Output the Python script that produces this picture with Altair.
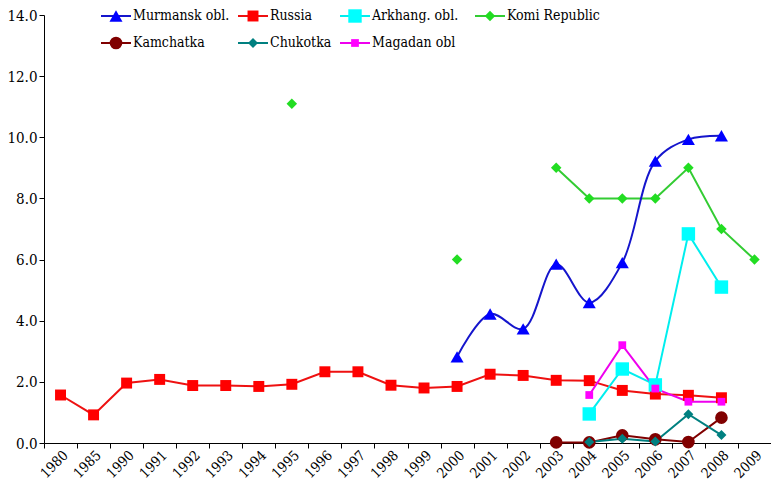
import altair as alt
import pandas as pd
import numpy as np

years = ["1980", "1985", "1990", "1991", "1992", "1993", "1994", "1995", "1996", "1997",
         "1998", "1999", "2000", "2001", "2002", "2003", "2004", "2005", "2006", "2007",
         "2008", "2009"]

N = None
murmansk = [N, N, N, N, N, N, N, N, N, N, N, N, 2.82, 4.22, 3.73, 5.85, 4.59, 5.9, 9.22, 9.93, 10.05, N]
russia = [1.57, 0.92, 1.96, 2.08, 1.88, 1.88, 1.85, 1.92, 2.33, 2.33, 1.89, 1.80, 1.85, 2.25, 2.21, 2.05, 2.04, 1.72, 1.60, 1.56, 1.48, N]
arkhang = [N, N, N, N, N, N, N, N, N, N, N, N, N, N, N, N, 0.95, 2.42, 1.90, 6.84, 5.10, N]
komi = [N, N, N, N, N, N, N, 11.1, N, N, N, N, 6.0, N, N, 9.0, 8.0, 8.0, 8.0, 9.0, 7.0, 6.0]
kamchatka = [N, N, N, N, N, N, N, N, N, N, N, N, N, N, N, 0.02, 0.02, 0.25, 0.12, 0.03, 0.83, N]
chukotka = [N, N, N, N, N, N, N, N, N, N, N, N, N, N, N, N, 0.03, 0.14, 0.05, 0.94, 0.26, N]
magadan = [N, N, N, N, N, N, N, N, N, N, N, N, N, N, N, N, 1.57, 3.20, 1.78, 1.35, 1.35, N]

series = ["Murmansk obl.", "Russia", "Arkhang. obl.", "Komi Republic",
          "Kamchatka", "Chukotka", "Magadan obl"]
values = [murmansk, russia, arkhang, komi, kamchatka, chukotka, magadan]

line_colors = ["#1515CC", "#EE1111", "#00EEEE", "#33CC33", "#800000", "#008080", "#EE00EE"]
mark_colors = ["#0000FF", "#FF0000", "#00FFFF", "#22DD22", "#800000", "#008080", "#FF00FF"]
shapes = ["triangle-up", "square", "square", "diamond", "circle", "diamond", "square"]
sizes = [170, 120, 180, 110, 160, 100, 60]

rows = []
for s, vals in zip(series, values):
    for y, v in zip(years, vals):
        rows.append({"year": y, "series": s, "value": (np.nan if v is None else v)})
df = pd.DataFrame(rows)
pts = df.dropna()

FONT = "DejaVu Serif Condensed, DejaVu Serif"

xenc = alt.X("year:N", scale=alt.Scale(domain=years, paddingInner=0, paddingOuter=0),
             axis=alt.Axis(title=None, labelAngle=-45, labelAlign="right", labelBaseline="top",
                           labelFont=FONT, labelFontSize=14, labelColor="black",
                           tickBand="extent", tickColor="black", domainColor="black",
                           tickSize=5, labelPadding=0, labelOffset=0))
yenc = alt.Y("value:Q", scale=alt.Scale(domain=[0, 14], nice=False, zero=True),
             axis=alt.Axis(title=None, values=[0, 2, 4, 6, 8, 10, 12, 14], format=".1f",
                           labelFont=FONT, labelFontSize=15, labelColor="black",
                           tickColor="black", domainColor="black", grid=False, tickSize=5))

stroke_enc = alt.Stroke("series:N", scale=alt.Scale(domain=series, range=line_colors), legend=None)
fill_enc = alt.Fill("series:N", scale=alt.Scale(domain=series, range=mark_colors), legend=None)
shape_enc = alt.Shape("series:N", scale=alt.Scale(domain=series, range=shapes), legend=None)
size_enc = alt.Size("series:N", scale=alt.Scale(type="ordinal", domain=series, range=sizes), legend=None)

base_lines = df[df.series != "Murmansk obl."]
lines = alt.Chart(base_lines).mark_line(strokeWidth=2, invalid="break-paths-show-domains").encode(
    x=xenc, y=yenc, stroke=stroke_enc, detail="series:N")
murm = alt.Chart(df[df.series == "Murmansk obl."].dropna()).mark_line(
    strokeWidth=2, interpolate="catmull-rom", color=line_colors[0]).encode(x=xenc, y=yenc)

points = alt.Chart(pts).mark_point(filled=True, opacity=1, strokeWidth=0).encode(
    x=xenc, y=yenc, fill=fill_enc, shape=shape_enc, size=size_enc)

# manual legend: 4 columns x 2 rows, pixel positions inside the plot area
col_x = [72, 209, 311, 446]
row_y = [1, 28]
leg = pd.DataFrame({
    "series": series,
    "mx": [col_x[i % 4] for i in range(len(series))],
    "my": [row_y[i // 4] for i in range(len(series))],
})
leg["x1"] = leg.mx - 15
leg["x2"] = leg.mx + 15
leg["tx"] = leg.mx + 17

leg_rule = alt.Chart(leg).mark_rule(strokeWidth=2).encode(
    x=alt.X("x1:Q", scale=None, axis=None), x2="x2:Q",
    y=alt.Y("my:Q", scale=None, axis=None), stroke=stroke_enc)
leg_pt = alt.Chart(leg).mark_point(filled=True, opacity=1, strokeWidth=0).encode(
    x=alt.X("mx:Q", scale=None, axis=None), y=alt.Y("my:Q", scale=None, axis=None),
    fill=fill_enc, shape=shape_enc, size=size_enc)
leg_txt = alt.Chart(leg).mark_text(align="left", baseline="middle", font=FONT, fontSize=14,
                                   color="black").encode(
    x=alt.X("tx:Q", scale=None, axis=None), y=alt.Y("my:Q", scale=None, axis=None),
    text="series:N")

chart = alt.layer(lines, murm, points, leg_rule, leg_pt, leg_txt).properties(
    width=727, height=428,
    autosize=alt.AutoSizeParams(type="none"),
    padding={"left": 36, "top": 7, "right": 0, "bottom": 42},
    background="white",
).configure_view(stroke=None).configure_text(font=FONT)

chart.save("out.html", embed_options={"renderer": "svg", "actions": False})
